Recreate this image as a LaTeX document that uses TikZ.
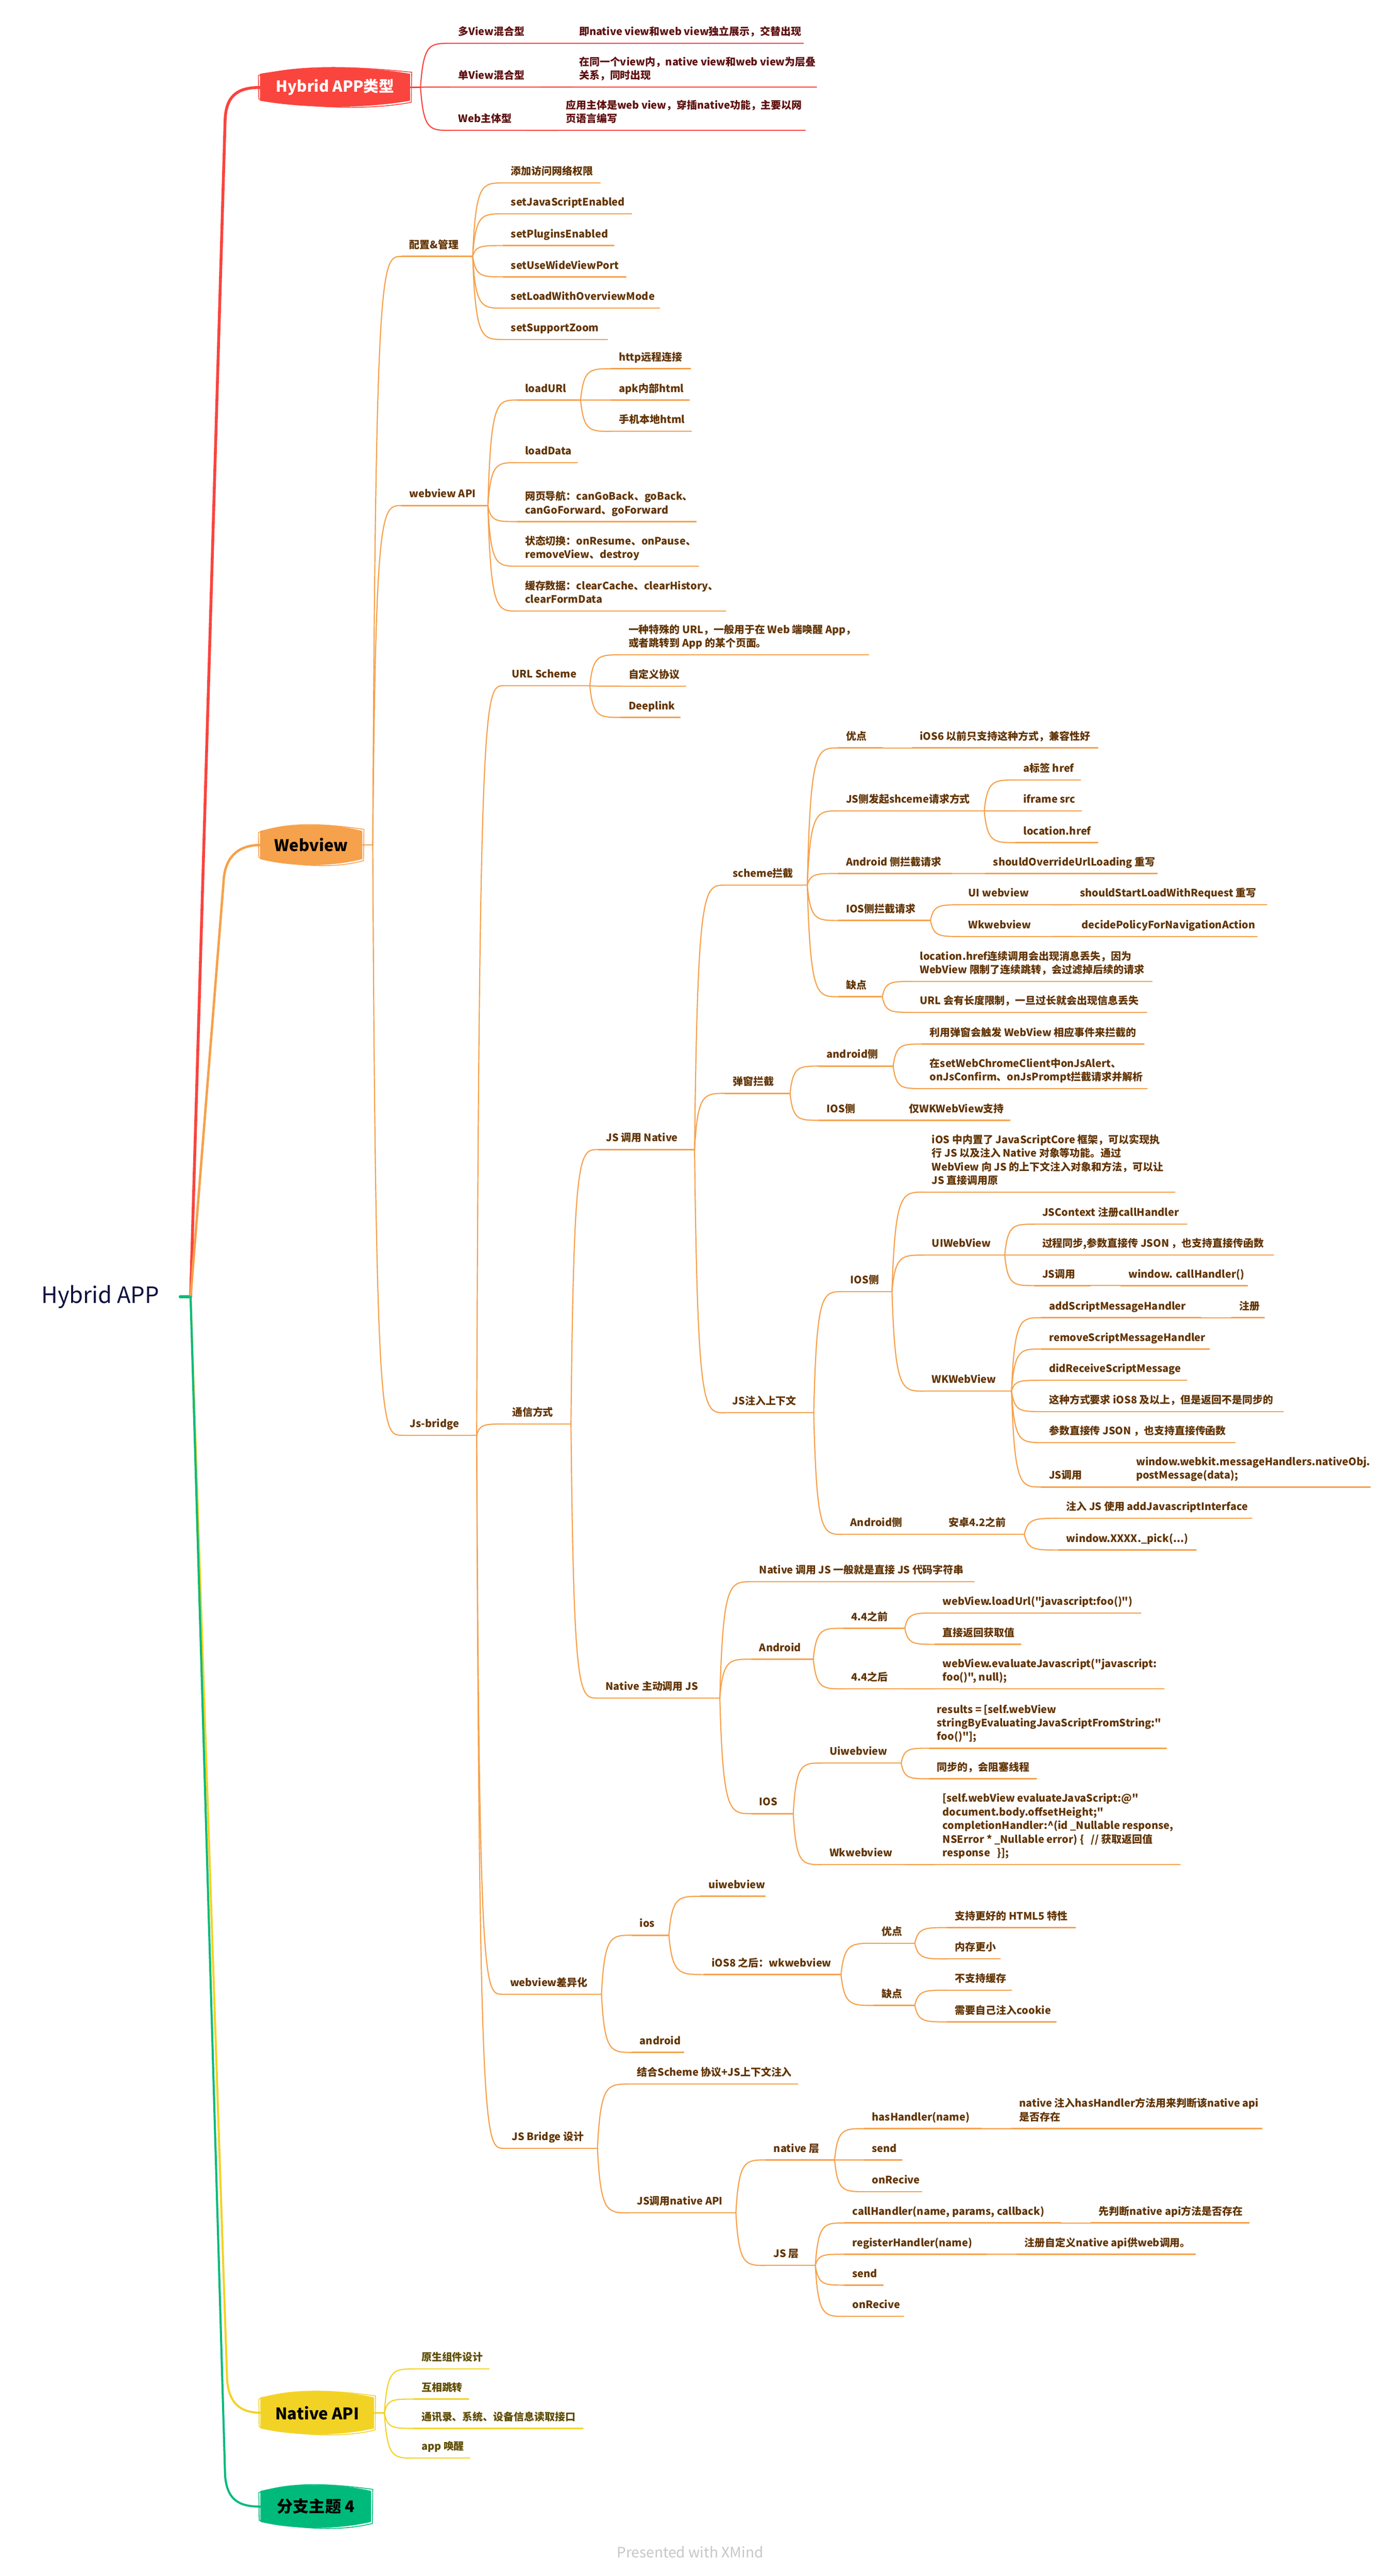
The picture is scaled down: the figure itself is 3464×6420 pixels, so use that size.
\documentclass[tikz,border=0pt]{standalone}
\usepackage{fontspec}
\setmainfont{Noto Sans CJK SC}[Ligatures=TeXOff]
\usetikzlibrary{calc}

\definecolor{hyred}{RGB}{250,68,62}
\definecolor{hyredtext}{RGB}{94,14,14}
\definecolor{wvorange}{RGB}{246,161,75}
\definecolor{wvtext}{RGB}{98,52,0}
\definecolor{nayellow}{RGB}{242,211,37}
\definecolor{natext}{RGB}{94,76,0}
\definecolor{xmgreen}{RGB}{0,186,124}
\definecolor{rootnavy}{RGB}{16,16,64}
\colorlet{brline}{wvorange}
\colorlet{brtext}{wvtext}

\tikzset{every picture/.style={line width=0.75pt}}
\tikzset{
  uline/.style={draw=brline, line width=0.8pt, line cap=round},
  link/.style={draw=brline, line width=0.7pt},
  txt/.style={text=brtext, anchor=south west, inner sep=0pt, align=left,
    font=\bfseries\fontsize{6.4pt}{8.5pt}\selectfont},
  trunk/.style={line width=1.8pt, line cap=round},
  boxtxt/.style={font=\bfseries\fontsize{10pt}{12pt}\selectfont},
}

% straight double quote
\newcommand{\dq}{\symbol{34}}
% topic: name, text x, underline end x, underline y, text
\newcommand{\topicnode}[5]{%
  \coordinate (#1-l) at (#2-18,#4);
  \coordinate (#1-r) at (#3,#4);
  \coordinate (#1-f) at (#3+28,#4);
  \draw[uline] (#1-l) -- (#1-r);
  \node[txt] (#1) at (#2,#4-8) {#5\strut};
}
% connector from the fork of one topic to the start of another
\newcommand{\linkto}[2]{%
  \draw[uline] (#1-r) -- (#1-f);
  \draw[link] (#1-f) .. controls ($(#1-f |- #2-l)!0.1!(#2-l)$) and ($(#1-f |- #2-l)!0.3!(#2-l)$) .. (#2-l);
}
% main branch box: name, x1, y1, x2, y2, fill, text colour, text
\newcommand{\mainbox}[8]{%
  \fill[#6] (#2,#3+14) .. controls ({#2+0.3*(#4-#2)},#3-6) and ({#4-0.3*(#4-#2)},#3-6) .. (#4,#3+14)
    -- (#4,#5-14) .. controls ({#4-0.3*(#4-#2)},#5+6) and ({#2+0.3*(#4-#2)},#5+6) .. (#2,#5-14) -- cycle;
  \draw[#6, line width=0.5pt] (#2-4,#3+18) .. controls ({#2+0.3*(#4-#2)},#3-12) and ({#4-0.3*(#4-#2)},#3-2) .. (#4+4,#3+10)
    -- (#4+3,#5-10) .. controls ({#4-0.3*(#4-#2)},#5+12) and ({#2+0.3*(#4-#2)},#5+2) .. (#2-3,#5-18) -- cycle;
  \node[boxtxt, text=#7] (#1) at ({(#2+#4)/2},{(#3+#5)/2}) {#8};
  \coordinate (#1-l) at (#2,{(#3+#5)/2});
  \coordinate (#1-r) at (#4,{(#3+#5)/2});
  \coordinate (#1-f) at (#4+26,{(#3+#5)/2});
}

\begin{document}
\begin{tikzpicture}[x=0.25pt,y=0.25pt,yscale=-1,xscale=1]
\fill[white] (0,0) rectangle (3464,6420);
\useasboundingbox (0,0) rectangle (3464,6420);

% Root
\node[text=rootnavy, font=\fontsize{14pt}{16pt}\selectfont] (root) at (250,3232) {Hybrid APP};
\coordinate (root-r) at (475,3232);
\draw[xmgreen, trunk] (449,3232) -- (root-r);
\draw[hyred, trunk] (root-r) -- (561,300) .. controls (563,240) and (590,218) .. (648,218);
\draw[wvorange, trunk, line width=1.5pt] (root-r) -- (557,2200) .. controls (559,2140) and (590,2106) .. (648,2106);
\draw[nayellow, trunk, line width=1.3pt] (root-r) -- (566,5930) .. controls (570,5990) and (600,6013) .. (649,6013);
\draw[xmgreen, trunk, line width=1.3pt] (root-r) -- (561,6170) .. controls (566,6230) and (595,6247) .. (649,6247);

%Branch: Hybrid APP类型
\begin{scope}
\colorlet{brline}{hyred}\colorlet{brtext}{hyredtext}
\mainbox{hyb}{648}{170}{1022}{265}{hyred}{white}{\fontsize{9.5pt}{11pt}\selectfont Hybrid APP类型}
\topicnode{hyb1}{1141}{1320}{108}{多View混合型}
\topicnode{hyb1a}{1442}{2002}{108}{即native view和web view独立展示，交替出现}
\topicnode{hyb2}{1141}{1320}{217}{单View混合型}
\topicnode{hyb2a}{1442}{2035}{217}{在同一个view内，native view和web view为层叠\\关系，同时出现}
\topicnode{hyb3}{1141}{1285}{325}{Web主体型}
\topicnode{hyb3a}{1409}{2007}{325}{应用主体是web view，穿插native功能，主要以网\\页语言编写}
\linkto{hyb}{hyb1}\linkto{hyb}{hyb2}\linkto{hyb}{hyb3}
\linkto{hyb1}{hyb1a}\linkto{hyb2}{hyb2a}\linkto{hyb3}{hyb3a}
\end{scope}

%Branch: Webview
\begin{scope}
\mainbox{web}{648}{2057}{903}{2155}{wvorange}{black}{Webview}
% 配置&管理
\topicnode{cfg}{1019}{1150}{639}{配置\&管理}
\topicnode{cfg1}{1272}{1496}{456}{添加访问网络权限}
\topicnode{cfg2}{1272}{1574}{533}{setJavaScriptEnabled}
\topicnode{cfg3}{1272}{1530}{612}{setPluginsEnabled}
\topicnode{cfg4}{1272}{1560}{690}{setUseWideViewPort}
\topicnode{cfg5}{1272}{1644}{768}{setLoadWithOverviewMode}
\topicnode{cfg6}{1272}{1514}{846}{setSupportZoom}
\linkto{web}{cfg}
\foreach \k in {1,...,6}{\linkto{cfg}{cfg\k}}
% webview API
\topicnode{api}{1019}{1188}{1260}{webview API}
\topicnode{api1}{1307}{1419}{997}{loadURl}
\topicnode{api11}{1541}{1721}{919}{http远程连接}
\topicnode{api12}{1541}{1718}{997}{apk内部html}
\topicnode{api13}{1541}{1723}{1075}{手机本地html}
\topicnode{api2}{1307}{1439}{1153}{loadData}
\topicnode{api3}{1307}{1735}{1300}{网页导航：canGoBack、goBack、\\canGoForward、goForward}
\topicnode{api4}{1307}{1741}{1411}{状态切换：onResume、onPause、\\removeView、destroy}
\topicnode{api5}{1307}{1809}{1523}{缓存数据：clearCache、clearHistory、\\clearFormData}
\linkto{web}{api}
\foreach \k in {1,...,5}{\linkto{api}{api\k}}
\foreach \k in {1,2,3}{\linkto{api1}{api1\k}}
% Js-bridge
\topicnode{jsb}{1020}{1160}{3577}{Js-bridge}
\linkto{web}{jsb}
\topicnode{url}{1274}{1442}{1709}{URL Scheme}
\topicnode{url1}{1565}{2165}{1632}{一种特殊的 URL，一般用于在 Web 端唤醒 App，\\或者跳转到 App 的某个页面。}
\topicnode{url2}{1565}{1709}{1710}{自定义协议}
\topicnode{url3}{1565}{1695}{1788}{Deeplink}
\linkto{jsb}{url}
\foreach \k in {1,2,3}{\linkto{url}{url\k}}
% 通信方式
\topicnode{comm}{1275}{1395}{3549}{通信方式}
\linkto{jsb}{comm}
\topicnode{jsn}{1509}{1703}{2865}{JS 调用 Native}
\linkto{comm}{jsn}
% scheme拦截
\topicnode{sch}{1825}{1984}{2206}{scheme拦截}
\topicnode{sch1}{2107}{2171}{1864}{优点}
\topicnode{sch1a}{2291}{2736}{1864}{iOS6 以前只支持这种方式，兼容性好}
\topicnode{sch2}{2107}{2425}{2021}{JS侧发起shceme请求方式}
\topicnode{sch21}{2549}{2693}{1944}{a标签 href}
\topicnode{sch22}{2549}{2695}{2021}{iframe src}
\topicnode{sch23}{2549}{2736}{2100}{location.href}
\topicnode{sch3}{2107}{2343}{2177}{Android 侧拦截请求}
\topicnode{sch3a}{2474}{2884}{2177}{shouldOverrideUrlLoading 重写}
\topicnode{sch4}{2107}{2291}{2294}{IOS侧拦截请求}
\topicnode{sch41}{2412}{2592}{2255}{UI webview}
\topicnode{sch41a}{2690}{3157}{2255}{shouldStartLoadWithRequest 重写}
\topicnode{sch42}{2412}{2592}{2334}{Wkwebview}
\topicnode{sch42a}{2694}{3133}{2334}{decidePolicyForNavigationAction}
\topicnode{sch5}{2107}{2171}{2484}{缺点}
\topicnode{sch51}{2291}{2871}{2446}{location.href连续调用会出现消息丢失，因为\\WebView 限制了连续跳转，会过滤掉后续的请求}
\topicnode{sch52}{2291}{2858}{2523}{URL 会有长度限制，一旦过长就会出现信息丢失}
\linkto{jsn}{sch}
\foreach \k in {1,...,5}{\linkto{sch}{sch\k}}
\linkto{sch1}{sch1a}
\foreach \k in {1,2,3}{\linkto{sch2}{sch2\k}}
\linkto{sch3}{sch3a}
\linkto{sch4}{sch41}\linkto{sch4}{sch42}
\linkto{sch41}{sch41a}\linkto{sch42}{sch42a}
\linkto{sch5}{sch51}\linkto{sch5}{sch52}
% 弹窗拦截
\topicnode{pop}{1825}{1941}{2725}{弹窗拦截}
\topicnode{pop1}{2059}{2198}{2657}{android侧}
\topicnode{pop11}{2316}{2851}{2602}{利用弹窗会触发 WebView 相应事件来拦截的}
\topicnode{pop12}{2316}{2859}{2713}{在setWebChromeClient中onJsAlert、\\onJsConfirm、onJsPrompt拦截请求并解析}
\topicnode{pop2}{2059}{2140}{2792}{IOS侧}
\topicnode{pop2a}{2264}{2517}{2792}{仅WKWebView支持}
\linkto{jsn}{pop}
\linkto{pop}{pop1}\linkto{pop}{pop2}
\linkto{pop1}{pop11}\linkto{pop1}{pop12}\linkto{pop2}{pop2a}
% JS注入上下文
\topicnode{inj}{1824}{2000}{3521}{JS注入上下文}
\topicnode{inj1}{2118}{2195}{3219}{IOS侧}
\topicnode{inj11}{2321}{2928}{2971}{iOS 中内置了 JavaScriptCore 框架，可以实现执\\行 JS 以及注入 Native 对象等功能。通过\\WebView 向 JS 的上下文注入对象和方法，可以让\\JS 直接调用原}
\topicnode{inj12}{2321}{2476}{3128}{UIWebView}
\topicnode{inj121}{2596}{2958}{3051}{JSContext 注册callHandler}
\topicnode{inj122}{2596}{3174}{3128}{过程同步,参数直接传 JSON ，也支持直接传函数}
\topicnode{inj123}{2596}{2690}{3204}{JS调用}
\topicnode{inj123a}{2811}{3109}{3204}{window. callHandler()}
\topicnode{inj13}{2321}{2493}{3467}{WKWebView}
\topicnode{inj131}{2613}{2965}{3284}{addScriptMessageHandler}
\topicnode{inj131a}{3087}{3151}{3284}{注册}
\topicnode{inj132}{2613}{3014}{3362}{removeScriptMessageHandler}
\topicnode{inj133}{2613}{2958}{3440}{didReceiveScriptMessage}
\topicnode{inj134}{2613}{3198}{3518}{这种方式要求 iOS8 及以上，但是返回不是同步的}
\topicnode{inj135}{2613}{3078}{3595}{参数直接传 JSON ，也支持直接传函数}
\topicnode{inj136}{2613}{2790}{3706}{JS调用}
\topicnode{inj136a}{2830}{3415}{3706}{window.webkit.messageHandlers.nativeObj.\\postMessage(data);}
\topicnode{inj2}{2118}{2230}{3824}{Android侧}
\topicnode{inj2a}{2363}{2525}{3824}{安卓4.2之前}
\topicnode{inj2a1}{2656}{3120}{3784}{注入 JS 使用 addJavascriptInterface}
\topicnode{inj2a2}{2656}{2981}{3863}{window.XXXX.\_pick(...)}
\linkto{jsn}{inj}
\linkto{inj}{inj1}\linkto{inj}{inj2}
\foreach \k in {1,2,3}{\linkto{inj1}{inj1\k}}
\foreach \k in {1,2,3}{\linkto{inj12}{inj12\k}}
\linkto{inj123}{inj123a}
\foreach \k in {1,...,6}{\linkto{inj13}{inj13\k}}
\linkto{inj131}{inj131a}\linkto{inj136}{inj136a}
\linkto{inj2}{inj2a}
\linkto{inj2a}{inj2a1}\linkto{inj2a}{inj2a2}
% Native 主动调用 JS
\topicnode{nat}{1508}{1766}{4232}{Native 主动调用 JS}
\topicnode{nat1}{1891}{2428}{3942}{Native 调用 JS 一般就是直接 JS 代码字符串}
\topicnode{nat2}{1891}{1999}{4135}{Android}
\topicnode{nat21}{2120}{2227}{4058}{4.4之前}
\topicnode{nat211}{2348}{2843}{4020}{webView.loadUrl(\dq javascript:foo()\dq)}
\topicnode{nat212}{2348}{2544}{4098}{直接返回获取值}
\topicnode{nat22}{2120}{2227}{4209}{4.4之后}
\topicnode{nat22a}{2348}{2901}{4209}{webView.evaluateJavascript(\dq javascript:\\foo()\dq, null);}
\topicnode{nat3}{1891}{1949}{4520}{IOS}
\topicnode{nat31}{2066}{2218}{4394}{Uiwebview}
\topicnode{nat311}{2334}{2907}{4357}{results = [self.webView\\stringByEvaluatingJavaScriptFromString:\dq\\foo()\dq];}
\topicnode{nat312}{2334}{2583}{4433}{同步的，会阻塞线程}
\topicnode{nat32}{2066}{2227}{4647}{Wkwebview}
\topicnode{nat32a}{2348}{2941}{4647}{[self.webView evaluateJavaScript:@\dq\\document.body.offsetHeight;\dq\\completionHandler:\textasciicircum(id \_Nullable response,\\NSError * \_Nullable error) \{ \ \ // 获取返回值\\response \ \ \}];}
\linkto{comm}{nat}
\foreach \k in {1,2,3}{\linkto{nat}{nat\k}}
\linkto{nat2}{nat21}\linkto{nat2}{nat22}
\linkto{nat21}{nat211}\linkto{nat21}{nat212}\linkto{nat22}{nat22a}
\linkto{nat3}{nat31}\linkto{nat3}{nat32}
\linkto{nat31}{nat311}\linkto{nat31}{nat312}\linkto{nat32}{nat32a}
% webview差异化
\topicnode{diff}{1270}{1471}{4970}{webview差异化}
\topicnode{diff1}{1593}{1639}{4823}{ios}
\topicnode{diff11}{1764}{1907}{4726}{uiwebview}
\topicnode{diff12}{1772}{2068}{4921}{iOS8 之后：wkwebview}
\topicnode{diff121}{2196}{2252}{4843}{优点}
\topicnode{diff1211}{2379}{2680}{4804}{支持更好的 HTML5 特性}
\topicnode{diff1212}{2379}{2493}{4882}{内存更小}
\topicnode{diff122}{2196}{2252}{4998}{缺点}
\topicnode{diff1221}{2379}{2521}{4960}{不支持缓存}
\topicnode{diff1222}{2379}{2632}{5039}{需要自己注入cookie}
\topicnode{diff2}{1593}{1704}{5115}{android}
\linkto{jsb}{diff}
\linkto{diff}{diff1}\linkto{diff}{diff2}
\linkto{diff1}{diff11}\linkto{diff1}{diff12}
\linkto{diff12}{diff121}\linkto{diff12}{diff122}
\linkto{diff121}{diff1211}\linkto{diff121}{diff1212}
\linkto{diff122}{diff1221}\linkto{diff122}{diff1222}
% JS Bridge 设计
\topicnode{bri}{1274}{1461}{5354}{JS Bridge 设计}
\topicnode{bri1}{1586}{1988}{5194}{结合Scheme 协议+JS上下文注入}
\topicnode{bri2}{1586}{1806}{5515}{JS调用native API}
\topicnode{bri21}{1927}{2052}{5383}{native 层}
\topicnode{bri211}{2172}{2418}{5305}{hasHandler(name)}
\topicnode{bri211a}{2539}{3145}{5305}{native 注入hasHandler方法用来判断该native api\\是否存在}
\topicnode{bri212}{2172}{2248}{5383}{send}
\topicnode{bri213}{2172}{2297}{5462}{onRecive}
\topicnode{bri22}{1927}{2004}{5646}{JS 层}
\topicnode{bri221}{2123}{2616}{5540}{callHandler(name, params, callback)}
\topicnode{bri221a}{2737}{3113}{5540}{先判断native api方法是否存在}
\topicnode{bri222}{2123}{2431}{5618}{registerHandler(name)}
\topicnode{bri222a}{2552}{2979}{5618}{注册自定义native api供web调用。}
\topicnode{bri223}{2123}{2201}{5695}{send}
\topicnode{bri224}{2123}{2252}{5773}{onRecive}
\linkto{jsb}{bri}
\linkto{bri}{bri1}\linkto{bri}{bri2}
\linkto{bri2}{bri21}\linkto{bri2}{bri22}
\foreach \k in {1,2,3}{\linkto{bri21}{bri21\k}}
\foreach \k in {1,...,4}{\linkto{bri22}{bri22\k}}
\linkto{bri211}{bri211a}\linkto{bri221}{bri221a}\linkto{bri222}{bri222a}
\end{scope}

%Branch: Native API
\begin{scope}
\colorlet{brline}{nayellow}\colorlet{brtext}{natext}
\mainbox{napi}{649}{5961}{932}{6066}{nayellow}{black}{Native API}
\topicnode{napi1}{1049}{1219}{5904}{原生组件设计}
\topicnode{napi2}{1049}{1168}{5979}{互相跳转}
\topicnode{napi3}{1049}{1453}{6052}{通讯录、系统、设备信息读取接口}
\topicnode{napi4}{1049}{1171}{6126}{app 唤醒}
\foreach \k in {1,...,4}{\linkto{napi}{napi\k}}
\end{scope}

%Branch: 分支主题 4
\mainbox{topic4}{649}{6194}{925}{6299}{xmgreen}{black}{分支主题 4}

% Text Node
\node[text=black!22, font=\fontsize{9pt}{11pt}\selectfont] (credit) at (1720,6360) {Presented with XMind};
\end{tikzpicture}
\end{document}
